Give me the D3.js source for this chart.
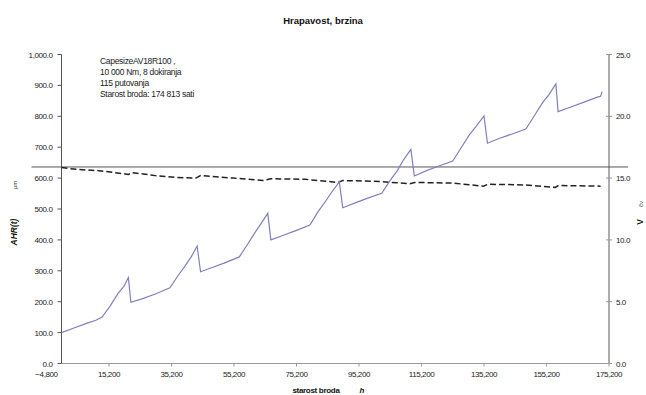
<!DOCTYPE html>
<html>
<head>
<meta charset="utf-8">
<script src="https://cdn.jsdelivr.net/npm/d3@7"></script>
<style>
  html, body { margin: 0; padding: 0; background: #fff; }
  svg { display: block; font-family: "Liberation Sans", Arial, sans-serif; }
</style>
</head>
<body>
<svg id="chart" width="646" height="395"></svg>
<script>
// Ship age (hours) tick values on the bottom axis
const xTickValues = [-4800, 15200, 35200, 55200, 75200, 95200, 115200, 135200, 155200, 175200];
const leftTickValues = [0, 100, 200, 300, 400, 500, 600, 700, 800, 900, 1000];
const rightTickValues = [0, 5, 10, 15, 20, 25];

// Hull roughness AHR(t) in μm against ship age in hours
const ahrHours = [0, 4000, 8000, 11000, 13000, 15500, 18000, 20000, 21400, 22200,
  26000, 30000, 34700, 37000, 39500, 41500, 43400, 44500,
  48000, 52000, 56900, 59500, 62000, 64000, 66000, 67000,
  71000, 75000, 79500, 82000, 84500, 86500, 88900, 90000,
  94000, 98000, 102500, 105000, 107500, 109500, 111800, 112900,
  117000, 121000, 125200, 128000, 130500, 132500, 135200, 136300,
  140000, 144000, 148600, 151500, 154000, 156000, 158200, 158900,
  163000, 167000, 171500, 172500, 173000];
const ahrValues = [100, 115, 130, 140, 150, 185, 225, 250, 278, 198,
  210, 225, 245, 280, 315, 345, 380, 297,
  310, 325, 345, 385, 425, 455, 486, 400,
  415, 430, 448, 490, 525, 555, 588, 504,
  520, 535, 551, 590, 625, 660, 693, 607,
  625, 640, 655, 700, 740, 765, 801, 713,
  728, 742, 759, 805, 845, 870, 905, 815,
  830, 845, 862, 865, 880];

// Ship speed in knots against ship age in hours
const speedHours = [0, 5000, 12000, 21400, 22500, 30000, 37000, 43000, 44500, 55000,
  64500, 67000, 78000, 88500, 90000, 100000, 111500, 113000, 125000, 135000,
  136500, 148000, 158000, 159000, 172500];
const speedValues = [15.85, 15.7, 15.6, 15.3, 15.45, 15.2, 15.05, 15.0, 15.2, 15.0,
  14.8, 14.95, 14.9, 14.65, 14.8, 14.75, 14.55, 14.65, 14.6, 14.35,
  14.5, 14.45, 14.25, 14.4, 14.35];

// Reference speed drawn as a solid horizontal line
const referenceSpeed = 15.9;

const infoLines = ["CapesizeAV18R100 ,", "10 000 Nm,  8 dokiranja", "115 putovanja", "Starost broda: 174 813 sati"];

const svg = d3.select("#chart");

const x = d3.scaleLinear().domain([-4800, 175200]).range([46.5, 609]);
const yLeft = d3.scaleLinear().domain([0, 1000]).range([363.5, 54.5]);
const yRight = d3.scaleLinear().domain([0, 25]).range([363.5, 54.5]);
const x0 = x(0);

const fmt1 = d3.format(",.1f");
const fmtX = d3.format(",d");

// Title
svg.append("text").attr("x", 323).attr("y", 24).attr("text-anchor", "middle")
  .attr("font-size", 9.5).attr("font-weight", "bold").attr("fill", "#111")
  .text("Hrapavost, brzina");

// Left axis
const gl = svg.append("g").attr("transform", `translate(${x0},0)`);
gl.append("line").attr("x1", 0).attr("x2", 0)
  .attr("y1", yLeft(1000)).attr("y2", yLeft(0)).attr("stroke", "#555").attr("stroke-width", 1);
leftTickValues.forEach(v => {
  gl.append("line").attr("x1", -4).attr("x2", 0).attr("y1", yLeft(v)).attr("y2", yLeft(v))
    .attr("stroke", "#555");
  gl.append("text").attr("x", -9).attr("y", yLeft(v) + 3).attr("text-anchor", "end")
    .attr("font-size", 8).attr("letter-spacing", -0.4).attr("fill", "#222").text(fmt1(v));
});

// Right axis
const gr = svg.append("g").attr("transform", `translate(${x(175200)},0)`);
gr.append("line").attr("x1", 0).attr("x2", 0)
  .attr("y1", yRight(25)).attr("y2", yRight(0)).attr("stroke", "#999").attr("stroke-width", 1.6);
rightTickValues.forEach(v => {
  gr.append("line").attr("x1", -3).attr("x2", 3).attr("y1", yRight(v)).attr("y2", yRight(v))
    .attr("stroke", "#999");
  gr.append("text").attr("x", 7).attr("y", yRight(v) + 3).attr("text-anchor", "start")
    .attr("font-size", 8).attr("letter-spacing", -0.4).attr("fill", "#222").text(fmt1(v));
});

// Bottom axis
svg.append("line").attr("x1", x0).attr("x2", x(175200))
  .attr("y1", yLeft(0)).attr("y2", yLeft(0)).attr("stroke", "#999").attr("stroke-width", 1.2);
xTickValues.forEach(v => {
  if (v > 0) {
    svg.append("line").attr("x1", x(v)).attr("x2", x(v))
      .attr("y1", yLeft(0)).attr("y2", yLeft(0) + 3).attr("stroke", "#999");
  }
  svg.append("text").attr("x", x(v)).attr("y", yLeft(0) + 13).attr("text-anchor", "middle")
    .attr("font-size", 8).attr("letter-spacing", -0.4).attr("fill", "#222").text(fmtX(v));
});

// Axis titles
svg.append("text").attr("transform", `translate(17,232) rotate(-90)`)
  .attr("text-anchor", "middle").attr("font-size", 8.5).attr("font-weight", "bold")
  .attr("font-style", "italic").attr("fill", "#111").text("AHR(t)");
svg.append("text").attr("transform", `translate(17,185) rotate(-90)`)
  .attr("text-anchor", "middle").attr("font-size", 6).attr("fill", "#333").text("μm");
svg.append("text").attr("transform", `translate(643,222) rotate(-90)`)
  .attr("text-anchor", "middle").attr("font-size", 8.5).attr("font-weight", "bold")
  .attr("fill", "#111").text("V");
svg.append("text").attr("transform", `translate(643,204) rotate(-90)`)
  .attr("text-anchor", "middle").attr("font-size", 6).attr("fill", "#333").text("čv");
svg.append("text").attr("x", 316).attr("y", 393).attr("text-anchor", "middle")
  .attr("font-size", 8).attr("font-weight", "bold").attr("letter-spacing", -0.3)
  .attr("fill", "#111").text("starost broda");
svg.append("text").attr("x", 362).attr("y", 393).attr("text-anchor", "middle")
  .attr("font-size", 8).attr("font-weight", "bold").attr("font-style", "italic")
  .attr("fill", "#111").text("h");

// Info block
infoLines.forEach((t, i) => {
  svg.append("text").attr("x", 100).attr("y", 64 + i * 11)
    .attr("font-size", 8.5).attr("letter-spacing", -0.3).attr("fill", "#222").text(t);
});

// Reference speed line
svg.append("line").attr("x1", x.range()[0] - 15).attr("x2", x.range()[1] + 19)
  .attr("y1", yRight(referenceSpeed)).attr("y2", yRight(referenceSpeed))
  .attr("stroke", "#555").attr("stroke-width", 1);

// Speed series (dashed)
const speedLine = d3.line().x((d, i) => x(speedHours[i])).y(d => yRight(d));
svg.append("path").datum(speedValues).attr("d", speedLine)
  .attr("fill", "none").attr("stroke", "#222").attr("stroke-width", 1.5)
  .attr("stroke-dasharray", "6,3");

// Roughness series
const ahrLine = d3.line().x((d, i) => x(ahrHours[i])).y(d => yLeft(d));
svg.append("path").datum(ahrValues).attr("d", ahrLine)
  .attr("fill", "none").attr("stroke", "#7f7fc0").attr("stroke-width", 1.2);
</script>
</body>
</html>
